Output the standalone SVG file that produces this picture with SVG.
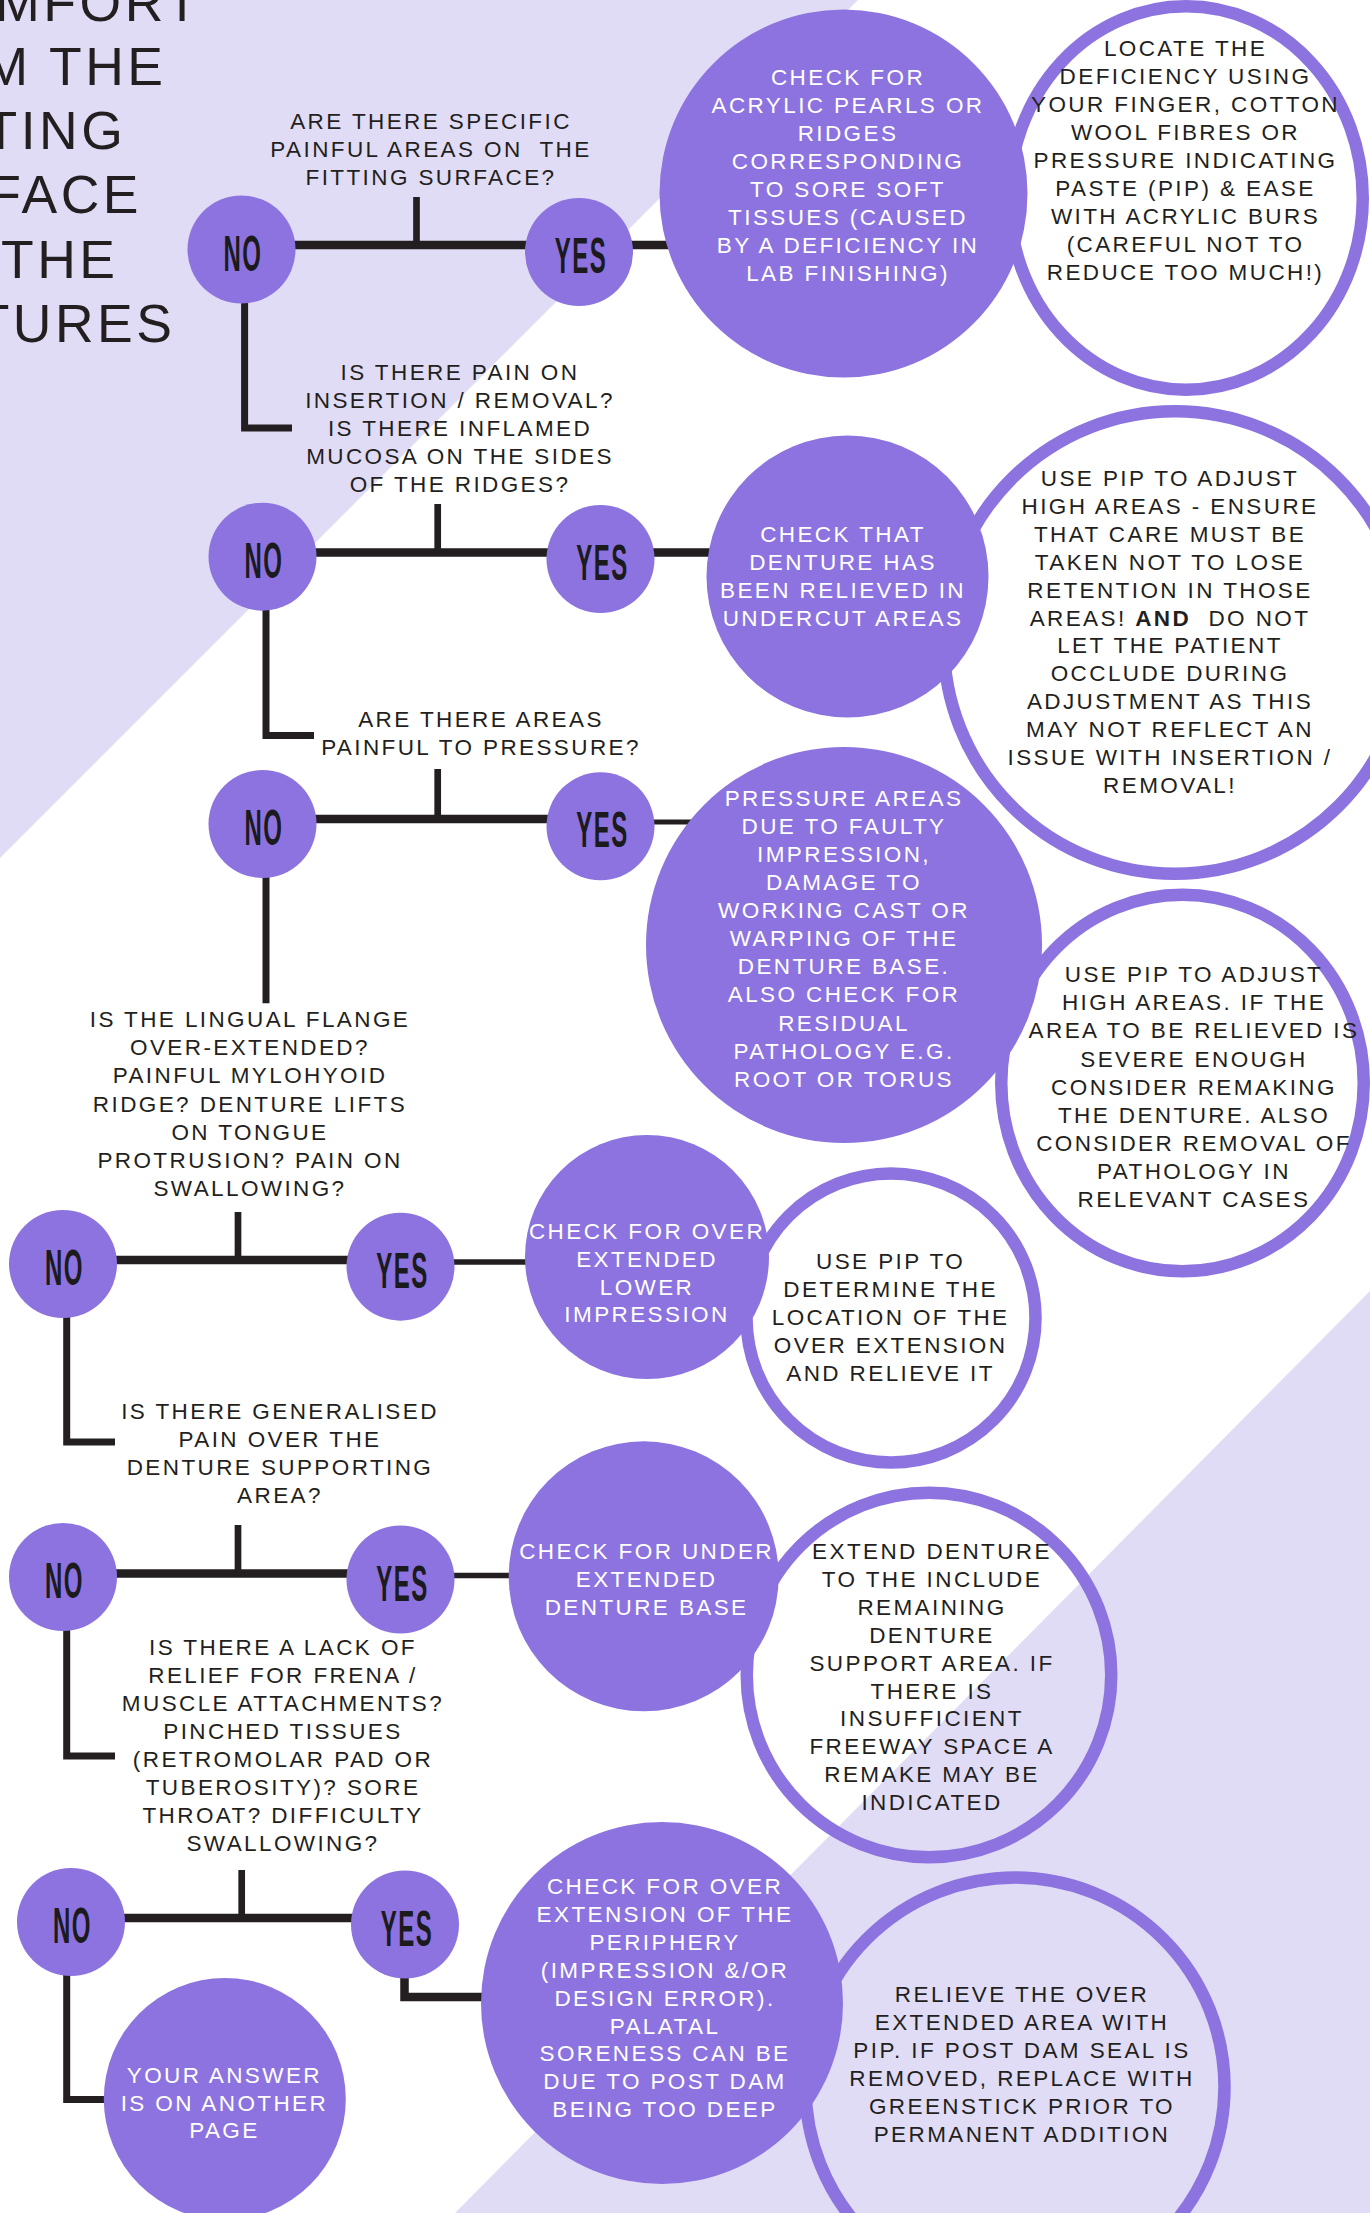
<svg xmlns="http://www.w3.org/2000/svg" width="1370" height="2213" viewBox="0 0 1370 2213">
<style>
.t{font-family:"Liberation Sans",Arial,sans-serif;font-size:22.5px;letter-spacing:2.4px;text-anchor:middle}
.d{fill:#231F20}
.w{fill:#FFFFFF}
.yn{font-family:"Liberation Sans",Arial,sans-serif;font-weight:bold;font-size:50px;letter-spacing:3px;fill:#1B1A1C;text-anchor:middle}
.title{font-family:"Liberation Sans",Arial,sans-serif;font-size:53.5px;letter-spacing:3.5px;fill:#231F20;text-anchor:end}
.pf{fill:#8C73DF}
.ring{fill:none;stroke:#8C73DF;stroke-width:12.5}
.ln{fill:none;stroke:#231F20;stroke-linejoin:miter}
</style>
<g id="background">
<rect x="0" y="0" width="1370" height="2213" fill="#FFFFFF"/>
<polygon points="0,0 858,0 0,858" fill="#E1DCF5"/>
<polygon points="1370,1291 1370,2213 455,2213" fill="#E1DCF5"/>
</g>
<g id="title">
<text class="title"><tspan x="202" y="20.7">MFORT</tspan><tspan x="166.5" y="85">M THE</tspan><tspan x="126.3" y="149">TING</tspan><tspan x="142" y="213">FACE</tspan><tspan x="118.5" y="278">THE</tspan><tspan x="175.5" y="342">TURES</tspan></text>
</g>
<g id="connectors">
<path class="ln" stroke-width="8.6" d="M290 245H530M625 245H680"/>
<path class="ln" stroke-width="6.7" d="M416.5 197V245"/>
<path class="ln" stroke-width="7" d="M244.6 300V428H292"/>
<path class="ln" stroke-width="8.4" d="M310 552.5H550M645 552.5H715"/>
<path class="ln" stroke-width="6.7" d="M437.7 504V552"/>
<path class="ln" stroke-width="7" d="M266 607V735.5H314"/>
<path class="ln" stroke-width="8.4" d="M310 819H550"/>
<path class="ln" stroke-width="5.2" d="M645 822H700"/>
<path class="ln" stroke-width="6.7" d="M437.7 769V819"/>
<path class="ln" stroke-width="7" d="M266 875V1003.3"/>
<path class="ln" stroke-width="8.4" d="M110 1260H350"/>
<path class="ln" stroke-width="5.6" d="M450 1262H530"/>
<path class="ln" stroke-width="6.7" d="M238 1212V1260"/>
<path class="ln" stroke-width="7" d="M66.7 1315V1442H115"/>
<path class="ln" stroke-width="8.4" d="M110 1573.5H350"/>
<path class="ln" stroke-width="5.6" d="M450 1575.5H515"/>
<path class="ln" stroke-width="6.7" d="M238 1525V1573"/>
<path class="ln" stroke-width="7" d="M66.7 1628V1756H115"/>
<path class="ln" stroke-width="8.4" d="M120 1918H355"/>
<path class="ln" stroke-width="6.7" d="M241.7 1870V1918"/>
<path class="ln" stroke-width="8.5" d="M404.5 1975V1997H490"/>
<path class="ln" stroke-width="7" d="M66.7 1973V2099.5H110"/>
</g>
<g id="q1"><text class="t d"><tspan x="431" y="128.5">ARE THERE SPECIFIC</tspan><tspan x="431" y="156.5" xml:space="preserve">PAINFUL AREAS ON  THE</tspan><tspan x="431" y="184.5">FITTING SURFACE?</tspan></text></g>
<g id="q2"><text class="t d"><tspan x="460" y="379.5">IS THERE PAIN ON</tspan><tspan x="460" y="407.5">INSERTION / REMOVAL?</tspan><tspan x="460" y="435.5">IS THERE INFLAMED</tspan><tspan x="460" y="463.5">MUCOSA ON THE SIDES</tspan><tspan x="460" y="491.5">OF THE RIDGES?</tspan></text></g>
<g id="q3"><text class="t d"><tspan x="481" y="727.3">ARE THERE AREAS</tspan><tspan x="481" y="755">PAINFUL TO PRESSURE?</tspan></text></g>
<g id="q4"><text class="t d"><tspan x="250" y="1027.3">IS THE LINGUAL FLANGE</tspan><tspan x="250" y="1055.4">OVER-EXTENDED?</tspan><tspan x="250" y="1083.4">PAINFUL MYLOHYOID</tspan><tspan x="250" y="1111.5">RIDGE? DENTURE LIFTS</tspan><tspan x="250" y="1139.5">ON TONGUE</tspan><tspan x="250" y="1167.6">PROTRUSION? PAIN ON</tspan><tspan x="250" y="1195.7">SWALLOWING?</tspan></text></g>
<g id="q5"><text class="t d"><tspan x="280" y="1419">IS THERE GENERALISED</tspan><tspan x="280" y="1446.7">PAIN OVER THE</tspan><tspan x="280" y="1475">DENTURE SUPPORTING</tspan><tspan x="280" y="1503.3">AREA?</tspan></text></g>
<g id="q6"><text class="t d"><tspan x="283" y="1655">IS THERE A LACK OF</tspan><tspan x="283" y="1683">RELIEF FOR FRENA /</tspan><tspan x="283" y="1711">MUSCLE ATTACHMENTS?</tspan><tspan x="283" y="1739">PINCHED TISSUES</tspan><tspan x="283" y="1767">(RETROMOLAR PAD OR</tspan><tspan x="283" y="1795">TUBEROSITY)? SORE</tspan><tspan x="283" y="1823">THROAT? DIFFICULTY</tspan><tspan x="283" y="1851">SWALLOWING?</tspan></text></g>
<g id="no1"><circle class="pf" cx="241.5" cy="249.5" r="54"/><text class="yn" transform="translate(243,270.5) scale(0.48,1)">NO</text></g>
<g id="yes1"><circle class="pf" cx="579" cy="252" r="54"/><text class="yn" transform="translate(581,273) scale(0.48,1)">YES</text></g>
<g id="no2"><circle class="pf" cx="262.5" cy="556.7" r="54"/><text class="yn" transform="translate(264,577.7) scale(0.48,1)">NO</text></g>
<g id="yes2"><circle class="pf" cx="600.5" cy="559" r="54"/><text class="yn" transform="translate(602.5,580) scale(0.48,1)">YES</text></g>
<g id="no3"><circle class="pf" cx="262.5" cy="824" r="54"/><text class="yn" transform="translate(264,845) scale(0.48,1)">NO</text></g>
<g id="yes3"><circle class="pf" cx="600.5" cy="826.3" r="54"/><text class="yn" transform="translate(602.5,847.3) scale(0.48,1)">YES</text></g>
<g id="no4"><circle class="pf" cx="63" cy="1264" r="54"/><text class="yn" transform="translate(64.5,1285) scale(0.48,1)">NO</text></g>
<g id="yes4"><circle class="pf" cx="400.5" cy="1266.7" r="54"/><text class="yn" transform="translate(402.5,1287.7) scale(0.48,1)">YES</text></g>
<g id="no5"><circle class="pf" cx="63" cy="1577" r="54"/><text class="yn" transform="translate(64.5,1598) scale(0.48,1)">NO</text></g>
<g id="yes5"><circle class="pf" cx="400.5" cy="1579.5" r="54"/><text class="yn" transform="translate(402.5,1600.5) scale(0.48,1)">YES</text></g>
<g id="no6"><circle class="pf" cx="71" cy="1922" r="54"/><text class="yn" transform="translate(72.5,1943) scale(0.48,1)">NO</text></g>
<g id="yes6"><circle class="pf" cx="405" cy="1924.5" r="54"/><text class="yn" transform="translate(407,1945.5) scale(0.48,1)">YES</text></g>
<g id="locate-deficiency"><ellipse class="ring" cx="1186" cy="198" rx="176.75" ry="191.75"/><text class="t d"><tspan x="1185.5" y="56">LOCATE THE</tspan><tspan x="1185.5" y="84">DEFICIENCY USING</tspan><tspan x="1185.5" y="112">YOUR FINGER, COTTON</tspan><tspan x="1185.5" y="140">WOOL FIBRES OR</tspan><tspan x="1185.5" y="168">PRESSURE INDICATING</tspan><tspan x="1185.5" y="196">PASTE (PIP) &amp; EASE</tspan><tspan x="1185.5" y="224">WITH ACRYLIC BURS</tspan><tspan x="1185.5" y="252">(CAREFUL NOT TO</tspan><tspan x="1185.5" y="280">REDUCE TOO MUCH!)</tspan></text></g>
<g id="use-pip-undercut"><circle class="ring" cx="1175" cy="642.5" r="231.25"/><text class="t d"><tspan x="1170" y="486">USE PIP TO ADJUST</tspan><tspan x="1170" y="513.9">HIGH AREAS - ENSURE</tspan><tspan x="1170" y="541.8">THAT CARE MUST BE</tspan><tspan x="1170" y="569.7">TAKEN NOT TO LOSE</tspan><tspan x="1170" y="597.6">RETENTION IN THOSE</tspan><tspan x="1170" y="625.5" xml:space="preserve">AREAS! <tspan font-weight="bold">AND</tspan>  DO NOT</tspan><tspan x="1170" y="653.4">LET THE PATIENT</tspan><tspan x="1170" y="681.3">OCCLUDE DURING</tspan><tspan x="1170" y="709.2">ADJUSTMENT AS THIS</tspan><tspan x="1170" y="737.1">MAY NOT REFLECT AN</tspan><tspan x="1170" y="765">ISSUE WITH INSERTION /</tspan><tspan x="1170" y="793">REMOVAL!</tspan></text></g>
<g id="use-pip-pressure"><ellipse class="ring" cx="1182.5" cy="1083" rx="181.25" ry="188.25"/><text class="t d"><tspan x="1194" y="982.2">USE PIP TO ADJUST</tspan><tspan x="1194" y="1010.3">HIGH AREAS. IF THE</tspan><tspan x="1194" y="1038.4">AREA TO BE RELIEVED IS</tspan><tspan x="1194" y="1066.5">SEVERE ENOUGH</tspan><tspan x="1194" y="1094.6">CONSIDER REMAKING</tspan><tspan x="1194" y="1122.7">THE DENTURE. ALSO</tspan><tspan x="1194" y="1150.8">CONSIDER REMOVAL OF</tspan><tspan x="1194" y="1178.9">PATHOLOGY IN</tspan><tspan x="1194" y="1207">RELEVANT CASES</tspan></text></g>
<g id="use-pip-determine"><circle class="ring" cx="891" cy="1318" r="144.5" stroke-width="12"/><text class="t d"><tspan x="890.6" y="1269.2">USE PIP TO</tspan><tspan x="890.6" y="1297.2">DETERMINE THE</tspan><tspan x="890.6" y="1325.2">LOCATION OF THE</tspan><tspan x="890.6" y="1353.3">OVER EXTENSION</tspan><tspan x="890.6" y="1381.3">AND RELIEVE IT</tspan></text></g>
<g id="extend-denture"><circle class="ring" cx="929" cy="1675" r="182.25"/><text class="t d"><tspan x="932" y="1559.3">EXTEND DENTURE</tspan><tspan x="932" y="1587.2">TO THE INCLUDE</tspan><tspan x="932" y="1615">REMAINING</tspan><tspan x="932" y="1642.9">DENTURE</tspan><tspan x="932" y="1670.7">SUPPORT AREA. IF</tspan><tspan x="932" y="1698.6">THERE IS</tspan><tspan x="932" y="1726.4">INSUFFICIENT</tspan><tspan x="932" y="1754.3">FREEWAY SPACE A</tspan><tspan x="932" y="1782.1">REMAKE MAY BE</tspan><tspan x="932" y="1810">INDICATED</tspan></text></g>
<g id="relieve-over-extended"><circle class="ring" cx="1015" cy="2087" r="209.5" stroke-width="13"/><text class="t d"><tspan x="1022" y="2001.7">RELIEVE THE OVER</tspan><tspan x="1022" y="2029.7">EXTENDED AREA WITH</tspan><tspan x="1022" y="2057.7">PIP. IF POST DAM SEAL IS</tspan><tspan x="1022" y="2085.7">REMOVED, REPLACE WITH</tspan><tspan x="1022" y="2113.7">GREENSTICK PRIOR TO</tspan><tspan x="1022" y="2141.7">PERMANENT ADDITION</tspan></text></g>
<g id="check-acrylic"><circle class="pf" cx="843.5" cy="193.5" r="184"/><text class="t w"><tspan x="848" y="85">CHECK FOR</tspan><tspan x="848" y="113">ACRYLIC PEARLS OR</tspan><tspan x="848" y="141">RIDGES</tspan><tspan x="848" y="169">CORRESPONDING</tspan><tspan x="848" y="197">TO SORE SOFT</tspan><tspan x="848" y="225">TISSUES (CAUSED</tspan><tspan x="848" y="253">BY A DEFICIENCY IN</tspan><tspan x="848" y="281">LAB FINISHING)</tspan></text></g>
<g id="check-that"><circle class="pf" cx="847.5" cy="576.5" r="141"/><text class="t w"><tspan x="843" y="541.7">CHECK THAT</tspan><tspan x="843" y="570">DENTURE HAS</tspan><tspan x="843" y="598.3">BEEN RELIEVED IN</tspan><tspan x="843" y="626">UNDERCUT AREAS</tspan></text></g>
<g id="pressure-areas"><circle class="pf" cx="844" cy="945" r="198"/><text class="t w"><tspan x="844" y="805.7">PRESSURE AREAS</tspan><tspan x="844" y="833.8">DUE TO FAULTY</tspan><tspan x="844" y="861.9">IMPRESSION,</tspan><tspan x="844" y="890">DAMAGE TO</tspan><tspan x="844" y="918.1">WORKING CAST OR</tspan><tspan x="844" y="946.2">WARPING OF THE</tspan><tspan x="844" y="974.3">DENTURE BASE.</tspan><tspan x="844" y="1002.4">ALSO CHECK FOR</tspan><tspan x="844" y="1030.5">RESIDUAL</tspan><tspan x="844" y="1058.6">PATHOLOGY E.G.</tspan><tspan x="844" y="1086.7">ROOT OR TORUS</tspan></text></g>
<g id="check-lower"><circle class="pf" cx="647" cy="1257" r="122"/><text class="t w"><tspan x="647" y="1238.6">CHECK FOR OVER</tspan><tspan x="647" y="1266.5">EXTENDED</tspan><tspan x="647" y="1294.5">LOWER</tspan><tspan x="647" y="1322">IMPRESSION</tspan></text></g>
<g id="check-under"><circle class="pf" cx="643.7" cy="1576.3" r="135"/><text class="t w"><tspan x="646.6" y="1559.3">CHECK FOR UNDER</tspan><tspan x="646.6" y="1587">EXTENDED</tspan><tspan x="646.6" y="1615">DENTURE BASE</tspan></text></g>
<g id="check-periphery"><circle class="pf" cx="662" cy="2003" r="181"/><text class="t w"><tspan x="665" y="1894.3">CHECK FOR OVER</tspan><tspan x="665" y="1922.1">EXTENSION OF THE</tspan><tspan x="665" y="1950">PERIPHERY</tspan><tspan x="665" y="1977.8">(IMPRESSION &amp;/OR</tspan><tspan x="665" y="2005.7">DESIGN ERROR).</tspan><tspan x="665" y="2033.5">PALATAL</tspan><tspan x="665" y="2061.4">SORENESS CAN BE</tspan><tspan x="665" y="2089.2">DUE TO POST DAM</tspan><tspan x="665" y="2117">BEING TOO DEEP</tspan></text></g>
<g id="your-answer"><circle class="pf" cx="224.8" cy="2099" r="121"/><text class="t w"><tspan x="224.4" y="2082.7">YOUR ANSWER</tspan><tspan x="224.4" y="2111">IS ON ANOTHER</tspan><tspan x="224.4" y="2138.3">PAGE</tspan></text></g>
</svg>
